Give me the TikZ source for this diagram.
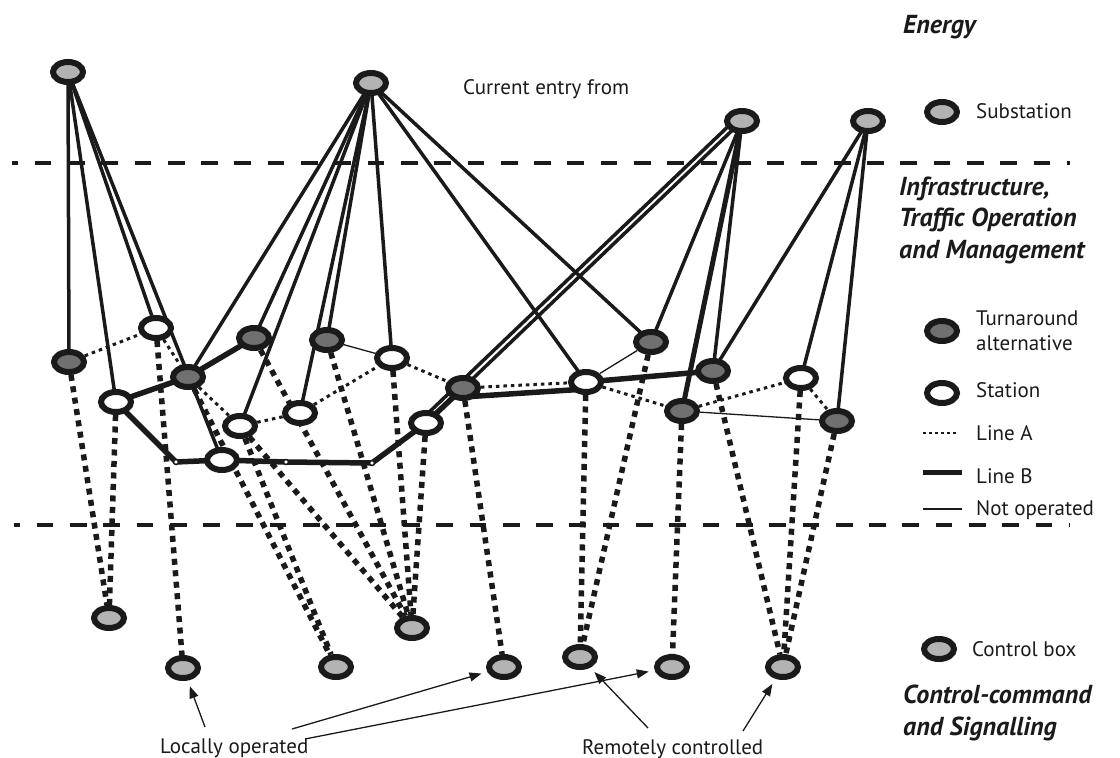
\documentclass[tikz,border=0pt]{standalone}
\usepackage{fontspec}
\setmainfont{PT Sans}
\usetikzlibrary{shapes.geometric,arrows.meta}
\definecolor{ink}{HTML}{1A1A1A}
\definecolor{boxgray}{HTML}{B3B3B3}
\definecolor{turngray}{HTML}{707070}
\pgfdeclarelayer{edges}
\pgfsetlayers{edges,main}

\begin{document}
\begin{tikzpicture}[x=1pt,y=-1pt,
  oval/.style={ellipse,draw=ink,line width=6pt,minimum width=30pt,minimum height=20pt,inner sep=0pt},
  substation/.style={oval,fill=boxgray},
  ctrlbox/.style={oval,fill=boxgray},
  turnaround/.style={oval,fill=turngray},
  station/.style={oval,fill=white},
  junction/.style={circle,draw=ink,fill=white,line width=1.5pt,minimum size=5pt,inner sep=0pt},
  power/.style={draw=ink,line width=3.5pt},
  powerheavy/.style={draw=ink,line width=5pt},
  lineA/.style={draw=ink,line width=3pt,dash pattern=on 3.5pt off 4pt},
  lineB/.style={draw=ink,line width=5.5pt,line join=round},
  notop/.style={draw=ink,line width=1.3pt},
  ctrl/.style={draw=ink,line width=5.5pt,dash pattern=on 6pt off 5.5pt},
  layersep/.style={draw=ink,line width=4pt,dash pattern=on 16.7pt off 16.6pt,dash phase=10.7pt},
  pointer/.style={draw=ink,line width=1.3pt,-{Triangle[length=12pt,width=9pt]},shorten >=6pt},
  lbl/.style={font=\fontsize{21}{25}\selectfont,text=ink,inner sep=0pt,align=left},
  heading/.style={font=\fontsize{26}{31.5}\selectfont\bfseries\itshape,text=ink,inner sep=0pt,align=left},
]
\useasboundingbox (0,0) rectangle (1120,758);

% ---------- substations (energy layer)
\node[substation] (S1) at (68,72) {};
\node[substation] (S2) at (371,83) {};
\node[substation] (S3) at (742,121) {};
\node[substation] (S4) at (868,121) {};

% ---------- infrastructure layer
\node[turnaround] (T1) at (69,362) {};
\node[station]    (N1) at (156,328) {};
\node[turnaround] (T2) at (188,377) {};
\node[station]    (N2) at (116,402) {};
\node[turnaround] (T3) at (254,338) {};
\node[turnaround] (T4) at (327,340) {};
\node[station]    (N3) at (392,358) {};
\node[station]    (N4) at (240,426) {};
\node[station]    (N5) at (300,413) {};
\node[station]    (N6) at (222,460) {};
\node[turnaround] (T5) at (463,388) {};
\node[station]    (N7) at (426,423) {};
\node[junction]   (J1) at (176,462) {};
\node[junction]   (J2) at (286,462) {};
\node[junction]   (J3) at (372,463) {};
\node[turnaround] (T6) at (651,342) {};
\node[station]    (N8) at (586,382) {};
\node[turnaround] (T7) at (713,371) {};
\node[turnaround] (T8) at (682,411) {};
\node[station]    (N9) at (801,378) {};
\node[turnaround] (T9) at (837,421) {};

% ---------- control boxes
\node[ctrlbox] (C1) at (109,618) {};
\node[ctrlbox] (C2) at (183,668) {};
\node[ctrlbox] (C3) at (336,667) {};
\node[ctrlbox] (C4) at (412,628) {};
\node[ctrlbox] (C5) at (504,667) {};
\node[ctrlbox] (C6) at (580,657) {};
\node[ctrlbox] (C7) at (672,667) {};
\node[ctrlbox] (C8) at (783,667) {};

% ---------- legend
\node[substation] (legSub)  at (942,112) {};
\node[turnaround] (legTurn) at (942,331) {};
\node[station]    (legSta)  at (942,393) {};
\node[ctrlbox]    (legBox)  at (939,649) {};
\coordinate (legAa) at (923,433); \coordinate (legAb) at (958,433);
\coordinate (legBa) at (923,472); \coordinate (legBb) at (962,472);
\coordinate (legNa) at (923,509); \coordinate (legNb) at (962,509);

% multi-line nodes are placed by the baseline of their last line
\node[lbl,anchor=base west] (tSub)  at (976,118) {Substation};
\node[lbl,anchor=base west] (tTurn) at (976,350) {Turnaround\\alternative};
\node[lbl,anchor=base west] (tSta)  at (976,397) {Station};
\node[lbl,anchor=base west] (tLA)   at (976,440) {Line A};
\node[lbl,anchor=base west] (tLB)   at (976,483) {Line B};
\node[lbl,anchor=base west] (tNO)   at (976,515) {Not operated};
\node[lbl,anchor=base west] (tBox)  at (972,656) {Control box};

\node[heading,anchor=base west] (hEnergy) at (903,33) {Energy};
\node[heading,anchor=base west] (hInfra)  at (899,258) {Infrastructure,\\Traffic Operation\\and Management};
\node[heading,anchor=base west] (hCtrl)   at (903,735) {Control-command\\and Signalling};

\node[lbl,anchor=base west] (tEntry)  at (463,94) {Current entry from};
\node[lbl,anchor=base west] (tLocal)  at (160,753) {Locally operated};
\node[lbl,anchor=base west] (tRemote) at (582,754) {Remotely controlled};

% ---------- layer separators
\coordinate (sepTopL) at (12,163);  \coordinate (sepTopR) at (1070,163);
\coordinate (sepBotL) at (14,525);  \coordinate (sepBotR) at (1070,525);

% ---------- pointer tails
\coordinate (pLa) at (205,727);
\coordinate (pLb) at (292,729);
\coordinate (pLc) at (305,739);
\coordinate (pRa) at (648,728);
\coordinate (pRb) at (743,731);

\begin{pgfonlayer}{edges}
  \draw[layersep] (sepTopL) -- (sepTopR);
  \draw[layersep] (sepBotL) -- (sepBotR);

  % feeders from the substations
  \foreach \t in {T1,N2,N1,N6} \draw[power] (S1.center) -- (\t.center);
  \foreach \t in {T2,T3,N4,N5,T4,N3,N8,T6} \draw[power] (S2.center) -- (\t.center);
  \draw[power] ([shift={(-4,-4)}]S3.center) -- ([shift={(-4,-4)}]N7.center);
  \draw[power] (S3.center) -- (T5.center);
  \draw[power] (S3.center) -- (T6.center);
  \draw[powerheavy] (S3.center) -- (T8.center);
  \draw[power] (S3.center) -- (T7.center);
  \foreach \t in {T7,N9,T9} \draw[power] (S4.center) -- (\t.center);

  % line A
  \draw[lineA] (T1) -- (N1);
  \draw[lineA] (N1) -- (T2);
  \draw[lineA] (T2) -- (N4);
  \draw[lineA] (N4) -- (N5);
  \draw[lineA] (N5) -- (N3);
  \draw[lineA] (N3) -- (T5);
  \draw[lineA] (T5) -- (N8);
  \draw[lineA] (N8) -- (T8);
  \draw[lineA] (T8) -- (N9);
  \draw[lineA] (N9) -- (T9);

  % line B
  \draw[lineB] (T3.center) -- (T2.center) -- (N2.center) -- (J1.center) -- (N6.center)
    -- (J2.center) -- (J3.center) -- (N7.center) -- (T5.center);
  \draw[lineB] ([shift={(0,9)}]T5.center) -- ([shift={(0,7)}]N8.center);
  \draw[lineB] (N8.center) -- (T7.center);

  % sections not operated
  \draw[notop] (T4) -- (N3);
  \draw[notop] (N8) -- (T6);
  \draw[notop] (T8) -- (T9);

  % control-command links
  \draw[ctrl] (T1) -- (C1);
  \draw[ctrl] (N2) -- (C1);
  \draw[ctrl] (N1) -- (C2);
  \draw[ctrl] (T2) -- (C3);
  \draw[ctrl] (N4) -- (C3);
  \draw[ctrl] (N4) -- (C4);
  \draw[ctrl] (T3) -- (C4);
  \draw[ctrl] (T4) -- (C4);
  \draw[ctrl] (N3) -- (C4);
  \draw[ctrl] (N7) -- (C4);
  \draw[ctrl] (T5) -- (C5);
  \draw[ctrl] (N8) -- (C6);
  \draw[ctrl] (T6) -- (C6);
  \draw[ctrl] (T8) -- (C7);
  \draw[ctrl] (T7) -- (C8);
  \draw[ctrl] (N9) -- (C8);
  \draw[ctrl] (T9) -- (C8);

  % legend lines
  \draw[draw=ink,line width=2.5pt,dash pattern=on 3pt off 3pt] (legAa) -- (legAb);
  \draw[draw=ink,line width=5pt] (legBa) -- (legBb);
  \draw[notop] (legNa) -- (legNb);

  % pointers
  \draw[pointer] (pLa) -- (C2);
  \draw[pointer] (pLb) -- (C5);
  \draw[pointer] (pLc) -- (C7);
  \draw[pointer] (pRa) -- (C6);
  \draw[pointer] (pRb) -- (C8);
\end{pgfonlayer}
\end{tikzpicture}
\end{document}
